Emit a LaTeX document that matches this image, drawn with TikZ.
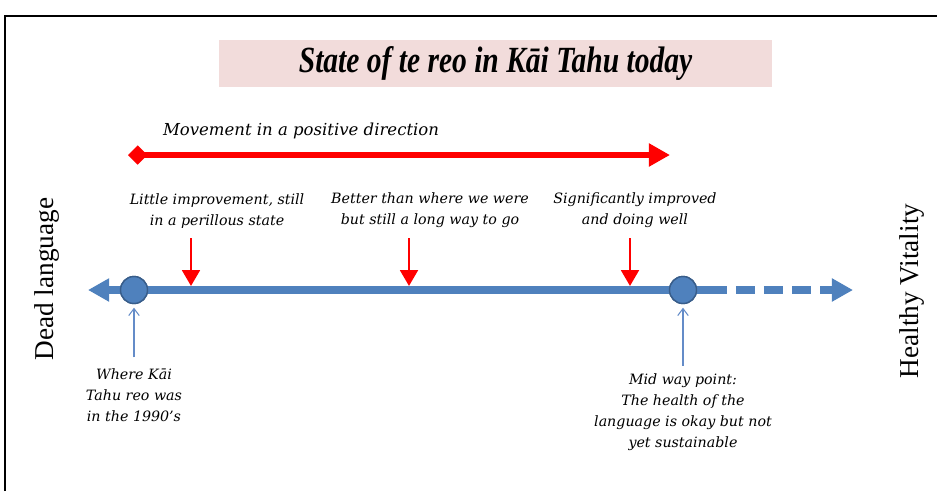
\documentclass[tikz,border=0pt]{standalone}
\usepackage{fontspec}
\setmainfont{Liberation Serif}
\newfontfamily\notefont{DejaVu Serif}
\newfontfamily\headfont[FakeStretch=0.8]{Liberation Serif}
\usetikzlibrary{arrows.meta}
\definecolor{axisblue}{RGB}{79,129,189}
\definecolor{ringblue}{RGB}{56,93,138}
\definecolor{pointblue}{RGB}{100,140,200}
\definecolor{titlepink}{RGB}{242,220,219}

\tikzset{
  note/.style={font=\notefont\itshape\fontsize{8.1}{12}\selectfont, align=center, inner sep=0pt},
  side/.style={font=\fontsize{15.5}{16}\selectfont, rotate=90, inner sep=0pt},
  dot/.style={circle, fill=axisblue, draw=ringblue, line width=0.8pt, minimum size=0.54cm, inner sep=0pt},
  stage/.style={red, line width=1.6pt, -{Triangle[length=9pt,width=10pt]}},
  pointer/.style={pointblue, line width=0.6pt, -{Straight Barb[length=4pt,width=6pt]}},
}

\begin{document}
\begin{tikzpicture}[x=0.02cm,y=-0.02cm]
\useasboundingbox (0,0) rectangle (937,491);
% frame and heading
\draw[line width=1.1pt] (5,491) -- (5,16) -- (937,16);
\node[fill=titlepink, minimum width=11.06cm, minimum height=0.94cm] (title) at (495.5,63.5)
  {\headfont\bfseries\itshape\fontsize{21}{21}\selectfont State of te reo in Kāi Tahu today};

% movement arrow
\node[note, font=\notefont\itshape\fontsize{9.4}{12}\selectfont] (movement) at (301,131) {Movement in a positive direction};
\coordinate (mstart) at (128,155);
\coordinate (mend) at (670,155);
\draw[red, line width=3.3pt, {Diamond[length=11pt,width=11pt]}-{Triangle[length=12pt,width=12.5pt]}] (mstart) -- (mend);

% the axis
\coordinate (ltip) at (88,290);
\coordinate (rtip) at (853,290);
\node[dot] (start) at (134,290) {};
\node[dot] (mid) at (683,290) {};
\draw[axisblue, line width=4pt, -{Triangle[length=12pt,width=12.5pt]}] (mid.center) -- (ltip);
\draw[axisblue, line width=4pt, dash pattern=on 11pt off 5pt, -{Triangle[length=12pt,width=12.5pt]}] ([xshift=6pt]mid.east) -- (rtip);
\draw[axisblue, line width=4pt] (mid.center) -- ([xshift=6pt]mid.east);
\node[dot] at (start) {};
\node[dot] at (mid) {};

% stages along the way
\node[note] (early) at (217,211) {Little improvement, still\\in a perillous state};
\node[note] (better) at (430,210) {Better than where we were\\but still a long way to go};
\node[note] (strong) at (635,210) {Significantly improved\\and doing well};
\foreach \x/\n in {191/a,409/b,630/c}{
  \coordinate (top\n) at (\x,238);
  \coordinate (hit\n) at (\x,286);
  \draw[stage] (top\n) -- (hit\n);
}

% points on the axis
\node[note, anchor=north] (where) at (134,368) {Where Kāi\\Tahu reo was\\in the 1990’s};
\node[note, anchor=north] (midway) at (683,373) {Mid way point:\\The health of the\\language is okay but not\\yet sustainable};
\draw[pointer, shorten >=2pt] ([yshift=6pt]where.north) -- (start.south);
\draw[pointer, shorten >=2pt] ([yshift=4pt]midway.north) -- (mid.south);

% ends of the scale
\node[side] (dead) at (47,279) {Dead language};
\node[side] (healthy) at (912,291) {Healthy Vitality};
\end{tikzpicture}
\end{document}
